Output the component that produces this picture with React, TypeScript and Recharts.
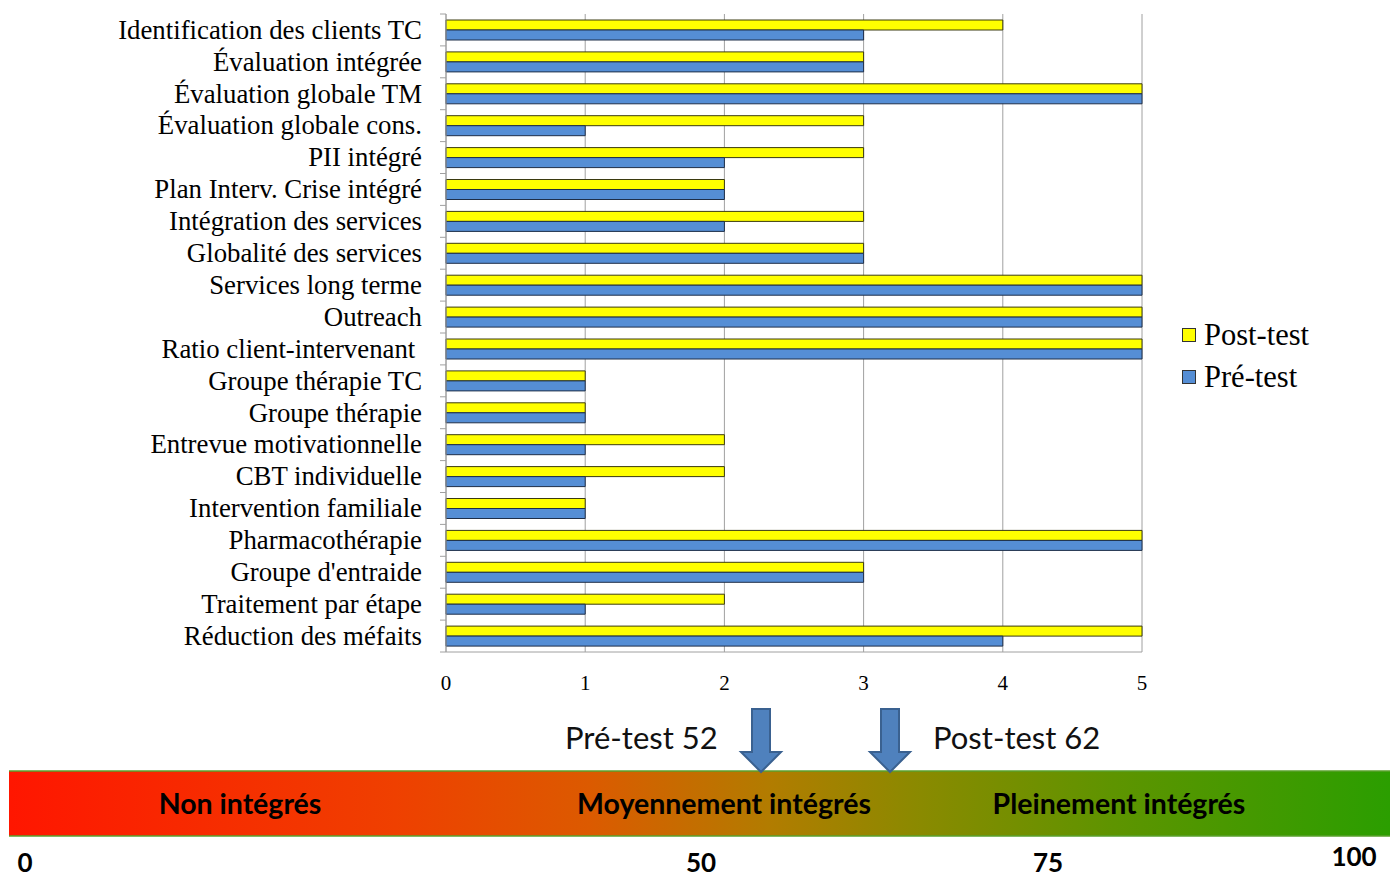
import { Bar, BarChart, CartesianGrid, XAxis, YAxis } from "recharts";

const categories = [
  "Identification des clients TC",
  "Évaluation intégrée",
  "Évaluation globale TM",
  "Évaluation globale cons.",
  "PII intégré",
  "Plan Interv. Crise intégré",
  "Intégration des services",
  "Globalité des services",
  "Services long terme",
  "Outreach",
  "Ratio client-intervenant ",
  "Groupe thérapie TC",
  "Groupe thérapie",
  "Entrevue motivationnelle",
  "CBT individuelle",
  "Intervention familiale",
  "Pharmacothérapie",
  "Groupe d'entraide",
  "Traitement par étape",
  "Réduction des méfaits",
];

const postTest = [4, 3, 5, 3, 3, 2, 3, 3, 5, 5, 5, 1, 1, 2, 2, 1, 5, 3, 2, 5];
const preTest = [3, 3, 5, 1, 2, 2, 2, 3, 5, 5, 5, 1, 1, 1, 1, 1, 5, 3, 1, 4];

const xTicks = [0, 1, 2, 3, 4, 5];

const legendItems = [
  { name: "Post-test", color: "#ffff00" },
  { name: "Pré-test", color: "#558ed5" },
];

// bottom scale strip
const zoneLabels = ["Non intégrés", "Moyennement intégrés", "Pleinement intégrés"];
const zoneLabelX = [240, 724, 1119];
const scaleLabels = ["0", "50", "75", "100"];
const scaleLabelX = [25, 701, 1048, 1354];
const scaleLabelY = [872, 872, 872, 866];
const markers = [
  { label: "Pré-test 52", arrowX: 761, textX: 565 },
  { label: "Post-test 62", arrowX: 890, textX: 933 },
];

const data = categories.map((name, i) => ({
  name,
  "Post-test": postTest[i],
  "Pré-test": preTest[i],
}));

const PLOT_TOP = 14;
const PLOT_BOTTOM = 652;
const BAND = (PLOT_BOTTOM - PLOT_TOP) / categories.length;

const CategoryTick = (props: any) => {
  const { y, payload, index } = props;
  const axisX = 446;
  return (
    <g>
      <line x1={axisX - 6} x2={axisX} y1={y - BAND / 2} y2={y - BAND / 2} stroke="#a0a0a0" />
      {index === categories.length - 1 && (
        <line x1={axisX - 6} x2={axisX} y1={y + BAND / 2} y2={y + BAND / 2} stroke="#a0a0a0" />
      )}
      <text
        x={422}
        y={y}
        dy="0.33em"
        textAnchor="end"
        fontFamily="'Liberation Serif', serif"
        fontSize={26.8}
        fill="#000"
        style={{ whiteSpace: "pre" }}
      >
        {payload.value}
      </text>
    </g>
  );
};

export default function App() {
  return (
    <div style={{ position: "relative", width: 1390, height: 877, background: "#fff" }}>
      <style>{`body{margin:0}`}</style>
      <BarChart
        width={1390}
        height={700}
        data={data}
        layout="vertical"
        margin={{ top: PLOT_TOP, right: 248, bottom: 0, left: 0 }}
        barSize={10}
        barGap={0}
      >
        <CartesianGrid horizontal={false} stroke="#a0a0a0" />
        <XAxis
          type="number"
          domain={[0, 5]}
          ticks={xTicks}
          height={48}
          tickLine={false}
          tickSize={0}
          tickMargin={23}
          axisLine={{ stroke: "#a0a0a0" }}
          tick={{ fontFamily: "'Liberation Serif', serif", fontSize: 21, fill: "#000" }}
        />
        <YAxis
          type="category"
          dataKey="name"
          width={446}
          interval={0}
          tickLine={false}
          axisLine={{ stroke: "#a0a0a0" }}
          tick={<CategoryTick />}
        />
        <Bar dataKey="Post-test" fill="#ffff00" stroke="#3a3a10" strokeWidth={1} isAnimationActive={false} />
        <Bar dataKey="Pré-test" fill="#558ed5" stroke="#1e2e48" strokeWidth={1} isAnimationActive={false} />
      </BarChart>

      <div
        style={{
          position: "absolute",
          left: 1182,
          top: 314,
          fontFamily: "'Liberation Serif', serif",
          fontSize: 30.5,
          color: "#000",
        }}
      >
        {legendItems.map((item) => (
          <div key={item.name} style={{ display: "flex", alignItems: "center", height: 42 }}>
            <span
              style={{
                display: "inline-block",
                width: 12,
                height: 12,
                background: item.color,
                border: "1px solid #333",
                marginRight: 8,
              }}
            />
            {item.name}
          </div>
        ))}
      </div>

      <svg
        width={1390}
        height={177}
        viewBox="0 700 1390 177"
        style={{ position: "absolute", left: 0, top: 700 }}
      >
        <defs>
          <linearGradient id="zone" x1="0" x2="1" y1="0" y2="0">
            <stop offset="0%" stopColor="#ff1600" />
            <stop offset="28%" stopColor="#ef4000" />
            <stop offset="42%" stopColor="#dc5a00" />
            <stop offset="55%" stopColor="#b27c00" />
            <stop offset="66%" stopColor="#8a8a00" />
            <stop offset="80%" stopColor="#5e9400" />
            <stop offset="100%" stopColor="#2b9e00" />
          </linearGradient>
        </defs>
        <rect x={9} y={771} width={1381} height={65} fill="url(#zone)" />
        <line x1={9} x2={1390} y1={771} y2={771} stroke="#5aa02c" strokeWidth={1.5} />
        <line x1={9} x2={1390} y1={836} y2={836} stroke="#5aa02c" strokeWidth={1.5} />
        {zoneLabels.map((t, i) => (
          <text
            key={t}
            x={zoneLabelX[i]}
            y={814}
            textAnchor="middle"
            fontFamily="Lato, sans-serif"
            fontWeight="bold"
            fontSize={28.5}
            fill="#000"
          >
            {t}
          </text>
        ))}
        {scaleLabels.map((t, i) => (
          <text
            key={t}
            x={scaleLabelX[i]}
            y={scaleLabelY[i]}
            textAnchor="middle"
            fontFamily="Lato, sans-serif"
            fontWeight="bold"
            fontSize={26}
            fill="#000"
          >
            {t}
          </text>
        ))}
        {markers.map((m) => (
          <g key={m.label}>
            <path
              d={`M${m.arrowX - 9} 709 H${m.arrowX + 9} V752 H${m.arrowX + 20} L${m.arrowX} 772 L${m.arrowX - 20} 752 H${m.arrowX - 9} Z`}
              fill="#4f81bd"
              stroke="#3a6190"
              strokeWidth={2}
            />
            <text x={m.textX} y={749} fontFamily="Lato, sans-serif" fontSize={31} fill="#111">
              {m.label}
            </text>
          </g>
        ))}
      </svg>
    </div>
  );
}
